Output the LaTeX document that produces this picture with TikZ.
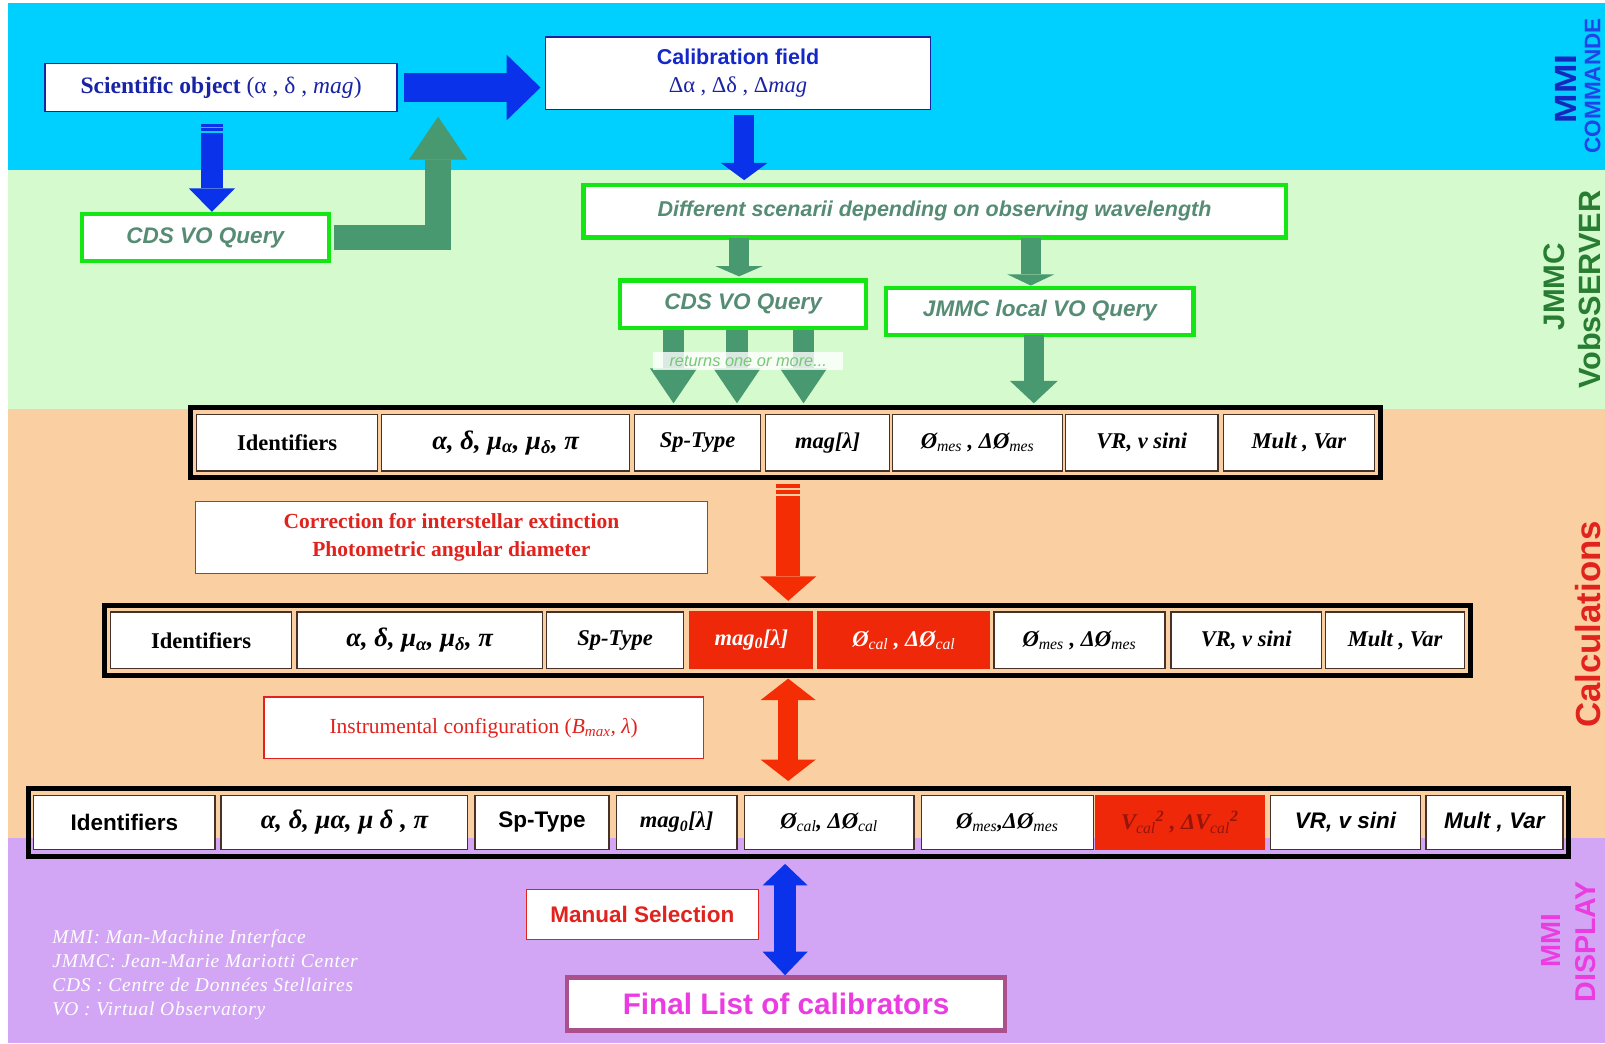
\documentclass[tikz,border=0pt]{standalone}
\usepackage{graphicx}
\usepackage{fontspec}
\setmainfont{Liberation Serif}
\setsansfont{Liberation Sans}
\usetikzlibrary{arrows.meta,fit}

\definecolor{bandcyan}{RGB}{0,208,255}
\definecolor{bandgreen}{RGB}{212,250,206}
\definecolor{bandorange}{RGB}{250,208,162}
\definecolor{bandpurple}{RGB}{210,166,244}
\definecolor{arrowblue}{RGB}{10,50,235}
\definecolor{textblue}{RGB}{25,35,165}
\definecolor{calblue}{RGB}{20,40,200}
\definecolor{arrowgreen}{RGB}{72,152,112}
\definecolor{boxgreen}{RGB}{20,230,20}
\definecolor{textgreen}{RGB}{85,140,115}
\definecolor{retgreen}{RGB}{120,200,120}
\definecolor{arrowred}{RGB}{245,45,5}
\definecolor{textred}{RGB}{225,35,30}
\definecolor{cellred}{RGB}{240,40,10}
\definecolor{darkred}{RGB}{150,20,10}
\definecolor{textmagenta}{RGB}{235,60,225}
\definecolor{boxmauve}{RGB}{170,80,140}
\definecolor{labelgreen}{RGB}{40,125,50}
\definecolor{labelblue}{RGB}{20,40,190}
\definecolor{labelblue2}{RGB}{30,70,230}
\definecolor{cellline}{RGB}{70,50,40}

\newcommand{\fs}[1]{\fontsize{#1}{#1}\selectfont}
\newcommand{\boxat}[7]{\node[#1, minimum width={(#5-#3)*1pt}, minimum height={(#6-#4)*1pt}] (#2) at ({(#3+#5)/2},{(#4+#6)/2}) {#7};}

\begin{document}
\begin{tikzpicture}[x=1pt,y=-1pt,
  bluebox/.style={draw=textblue, line width=1.4, fill=white, inner sep=0pt, outer sep=0pt, text=textblue},
  greenbox/.style={draw=boxgreen, line width=4, fill=white, inner sep=0pt, outer sep=0pt, text=textgreen, font=\sffamily\bfseries\itshape\fs{22}},
  redbox/.style={draw=textred, line width=1.2, fill=white, inner sep=0pt, outer sep=0pt, text=textred},
  cell/.style={draw=cellline, line width=1.3, fill=white, inner sep=0pt, outer sep=0pt, font=\fs{22}\bfseries\itshape},
  greekcell/.style={cell, font=\fs{26}\bfseries\itshape},
  redcell/.style={cell, fill=cellred, draw=cellred, text=white},
  tframe/.style={draw=black, line width=5, inner xsep=5.5pt, inner ysep=6.5pt},
  sidelabel/.style={rotate=90, font=\sffamily\bfseries, inner sep=0pt},
]
\useasboundingbox (0,0) rectangle (1568,1019);
% bands
\fill[white] (0,0) rectangle (1568,1019);
\fill[bandcyan] (8,3) rectangle (1568,166);
\fill[bandgreen] (8,166) rectangle (1568,400);
\fill[bandorange] (8,400) rectangle (1568,819);
\fill[bandpurple] (8,819) rectangle (1568,1019);

% top boxes
\boxat{bluebox}{sci}{44}{62}{388}{109}{\fs{23}\textbf{Scientific object} (α , δ , \textit{mag})}
\boxat{bluebox, align=center}{cal}{533}{36}{909}{107}{{\sffamily\bfseries\fs{21}\color{calblue}Calibration field}\\[10pt]{\fs{22}Δα , Δδ , Δ\textit{mag}}}
\boxat{greenbox}{cdsL}{80}{209}{321}{255}{CDS VO Query}
\boxat{greenbox, font=\sffamily\bfseries\itshape\fs{21}}{dif}{570}{181}{1256}{232}{Different scenarii depending on observing wavelength}
\boxat{greenbox}{cdsM}{606}{274}{846}{320}{CDS VO Query}
\boxat{greenbox}{jmmc}{866}{281}{1166}{327}{JMMC local VO Query}

% table 1
\boxat{cell}{t1a}{192}{405}{369}{460}{\upshape Identifiers}
\boxat{greekcell}{t1b}{373}{405}{615}{460}{α, δ, μ\textsubscript{α}, μ\textsubscript{δ}, π}
\boxat{cell}{t1c}{620}{405}{743}{460}{Sp-Type}
\boxat{cell}{t1d}{748}{405}{869}{460}{mag[λ]}
\boxat{cell}{t1e}{872}{405}{1038}{460}{Ø\textsubscript{\mdseries mes} , ΔØ\textsubscript{\mdseries mes}}
\boxat{cell}{t1f}{1041}{405}{1190}{460}{VR, v sini}
\boxat{cell}{t1g}{1195}{405}{1343}{460}{Mult , Var}
\node[tframe, fit=(t1a)(t1g)] (t1) {};

% table 2
\boxat{cell}{t2a}{108}{598}{285}{653}{\upshape Identifiers}
\boxat{greekcell}{t2b}{290}{598}{530}{653}{α, δ, μ\textsubscript{α}, μ\textsubscript{δ}, π}
\boxat{cell}{t2c}{534}{598}{668}{653}{Sp-Type}
\boxat{redcell}{t2d}{674}{598}{794}{653}{mag\textsubscript{0}[λ]}
\boxat{redcell}{t2e}{799}{598}{967}{653}{Ø\textsubscript{\mdseries cal} , ΔØ\textsubscript{\mdseries cal}}
\boxat{cell}{t2f}{971}{598}{1138}{653}{Ø\textsubscript{\mdseries mes} , ΔØ\textsubscript{\mdseries mes}}
\boxat{cell}{t2g}{1144}{598}{1291}{653}{VR, v sini}
\boxat{cell}{t2h}{1295}{598}{1431}{653}{Mult , Var}
\node[tframe, fit=(t2a)(t2h)] (t2) {};

% table 3
\boxat{cell}{t3a}{33}{777}{210}{830}{\sffamily\upshape Identifiers}
\boxat{greekcell}{t3b}{216}{777}{457}{830}{α, δ, μα, μ δ , π}
\boxat{cell}{t3c}{464}{777}{595}{830}{\sffamily\upshape Sp-Type}
\boxat{cell}{t3d}{602}{777}{720}{830}{mag\textsubscript{0}[λ]}
\boxat{cell}{t3e}{727}{777}{893}{830}{Ø\textsubscript{\mdseries cal}, ΔØ\textsubscript{\mdseries cal}}
\boxat{cell}{t3f}{900}{777}{1068}{830}{Ø\textsubscript{\mdseries mes},ΔØ\textsubscript{\mdseries mes}}
\boxat{redcell, text=darkred}{t3g}{1070}{777}{1235}{830}{V\textsubscript{\mdseries cal}\textsuperscript{2} , ΔV\textsubscript{\mdseries cal}\textsuperscript{2}}
\boxat{cell}{t3h}{1241}{777}{1388}{830}{\sffamily VR, v sini}
\boxat{cell}{t3i}{1393}{777}{1527}{830}{\sffamily Mult , Var}
\node[tframe, fit=(t3a)(t3i)] (t3) {};

% red boxes
\boxat{redbox, align=center, font=\bfseries\fs{21}}{corr}{191}{490}{691}{560}{Correction for interstellar extinction\\[7pt]Photometric angular diameter}
\boxat{redbox, font=\fs{21}}{instr}{258}{681}{687}{741}{Instrumental configuration (\textit{B\textsubscript{max}, λ})}
\boxat{redbox, font=\sffamily\bfseries\fs{22}}{manual}{514}{869}{741}{918}{Manual Selection}
\boxat{draw=boxmauve, line width=4.5, fill=white, inner sep=0pt, text=textmagenta, font=\sffamily\bfseries\fs{29}}{final}{554}{955}{982}{1007}{Final List of calibrators}

% ---- arrows ----
% sci -> cal
\draw[arrowblue, line width=29, -{Triangle[length=33pt,width=64pt,line width=0pt]}, shorten <=7pt, shorten >=5pt] (sci.east) -- (sci.east -| cal.west);
% sci -> cdsL (striped)
\coordinate (bx) at (207,0);
\coordinate (bs) at (sci.south -| bx);
\fill[arrowblue] ([shift={(-10.5,12)}]bs) rectangle ([shift={(10.5,15)}]bs);
\fill[arrowblue] ([shift={(-10.5,16)}]bs) rectangle ([shift={(10.5,19)}]bs);
\draw[arrowblue, line width=21, -{Triangle[length=23pt,width=45pt,line width=0pt]}, shorten <=21pt, shorten >=2pt] (bs) -- (cdsL.north -| bx);
% cdsL -> merges into upper arrow
\coordinate (gtip) at (428,114);
\draw[arrowgreen, line width=25, line join=miter, -{Triangle[length=42pt,width=57pt,line width=0pt]}, shorten <=5pt] (cdsL.east) -| (gtip);
% cal -> dif
\draw[arrowblue, line width=20, -{Triangle[length=17pt,width=46pt,line width=0pt]}, shorten <=5pt, shorten >=5pt] ([xshift=6pt]cal.south) -- ([xshift=6pt]cal.south |- dif.north);
% dif -> cdsM, jmmc
\draw[arrowgreen, line width=20, -{Triangle[length=10pt,width=46pt,line width=0pt]}, shorten <=1pt, shorten >=4pt] ([xshift=-4pt]cdsM.north |- dif.south) -- ([xshift=-4pt]cdsM.north);
\draw[arrowgreen, line width=20, -{Triangle[length=11pt,width=46pt,line width=0pt]}, shorten <=1pt, shorten >=2pt] ([xshift=-9pt]jmmc.north |- dif.south) -- ([xshift=-9pt]jmmc.north);
% cdsM -> t1 (three)
\foreach \dx in {-68,-6,59}{
  \draw[arrowgreen, line width=21, -{Triangle[length=34pt,width=46pt,line width=0pt]}, shorten <=2pt, shorten >=2pt] ([xshift=\dx pt]cdsM.south) -- ([xshift=\dx pt]cdsM.south |- t1.north);
}
\node[fill=white, fill opacity=0.8, text opacity=1, text=retgreen, font=\sffamily\itshape\fs{16}, inner sep=1pt, minimum width=186pt, minimum height=17pt] (ret) at (731,352.5) {returns one or more...};
% jmmc -> t1
\draw[arrowgreen, line width=19, -{Triangle[length=22pt,width=47pt,line width=0pt]}, shorten >=2pt] ([xshift=-6pt]jmmc.south) -- ([xshift=-6pt]jmmc.south |- t1.north);
% t1 -> t2 (striped red)
\coordinate (rx) at (770,0);
\coordinate (rs) at (t1.south -| rx);
\fill[arrowred] ([shift={(-12,4)}]rs) rectangle ([shift={(12,8)}]rs);
\fill[arrowred] ([shift={(-12,10)}]rs) rectangle ([shift={(12,14)}]rs);
\draw[arrowred, line width=24, -{Triangle[length=24pt,width=55pt,line width=0pt]}, shorten <=16pt, shorten >=2pt] (rs) -- (t2.north -| rx);
% t2 <-> t3
\draw[arrowred, line width=20, {Triangle[length=21pt,width=54pt,line width=0pt]}-{Triangle[length=21pt,width=54pt,line width=0pt]}, shorten <=1pt, shorten >=5pt] (t2.south -| rx) -- (t3.north -| rx);
% t3 <-> final
\coordinate (fx) at (767,0);
\draw[arrowblue, line width=21, {Triangle[length=21pt,width=44pt,line width=0pt]}-{Triangle[length=23pt,width=44pt,line width=0pt]}, shorten <=5pt] (t3.south -| fx) -- (final.north -| fx);

% notes
\node[anchor=north west, align=left, text=white, inner sep=0pt, font=\itshape\fontsize{19}{23.5}\selectfont\addfontfeatures{LetterSpace=4}] (notes) at (51,908) {MMI: Man-Machine Interface\\JMMC: Jean-Marie Mariotti Center\\CDS : Centre de Données Stellaires\\VO : Virtual Observatory};

% side labels
\node[sidelabel, text=labelblue, font=\sffamily\bfseries\fs{30}] (lmmi) at (1530,87) {\scalebox{1.15}[1]{MMI}};
\node[sidelabel, text=labelblue2, font=\sffamily\bfseries\fs{22}] (lcmd) at (1556,84) {COMMANDE};
\node[sidelabel, text=labelgreen, font=\sffamily\bfseries\fs{29}] (ljmmc) at (1518,280) {JMMC};
\node[sidelabel, text=labelgreen, font=\sffamily\bfseries\fs{30}] (lvobs) at (1553,283) {VobsSERVER};
\node[sidelabel, text=textred, font=\sffamily\bfseries\fs{34}] (lcalc) at (1551,610) {Calculations};
\node[sidelabel, text=textmagenta, font=\sffamily\bfseries\fs{27}] (lmmi2) at (1515,919) {MMI};
\node[sidelabel, text=textmagenta, font=\sffamily\bfseries\fs{28}] (ldisp) at (1549,920) {DISPLAY};
\end{tikzpicture}
\end{document}
